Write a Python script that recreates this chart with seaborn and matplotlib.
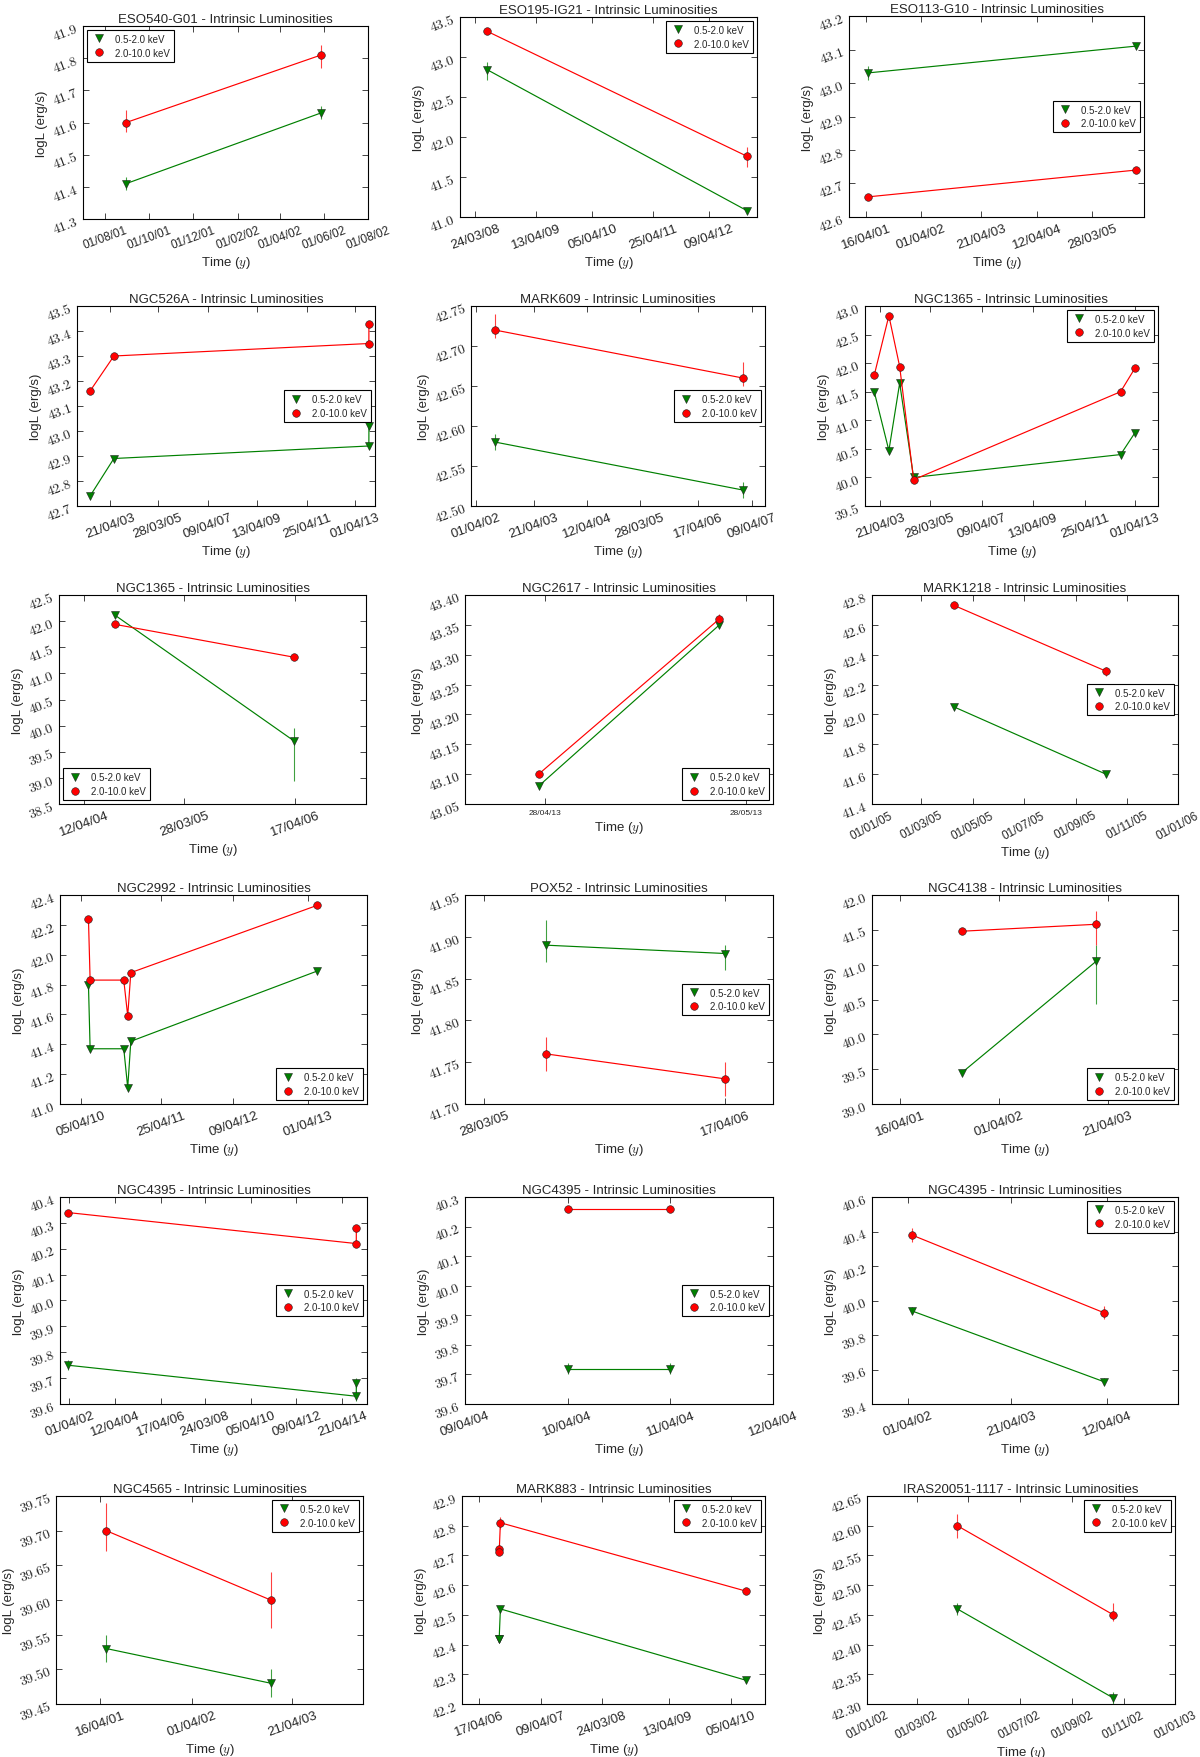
import matplotlib
matplotlib.use("Agg")
import matplotlib.pyplot as plt
import matplotlib.dates as mdates
from matplotlib.lines import Line2D
from matplotlib.ticker import MultipleLocator, FuncFormatter
import pandas as pd
import seaborn as sns

# ---- data ----
SOFT_LABEL = "0.5-2.0 keV"
HARD_LABEL = "2.0-10.0 keV"

eso540_dates = ["2001-08-30", "2002-05-28"]
eso540_soft = [41.41, 41.63]
eso540_soft_err = [[0.02, 0.02], [0.02, 0.02]]
eso540_hard = [41.60, 41.81]
eso540_hard_err = [[0.03, 0.04], [0.04, 0.03]]
eso540_xticks = ["01/08/01", "01/10/01", "01/12/01", "01/02/02", "01/04/02", "01/06/02", "01/08/02"]

eso195_dates = ["2008-06-10", "2012-12-06"]
eso195_soft = [42.84, 41.08]
eso195_soft_err = [[0.13, 0.01], [0.10, 0.01]]
eso195_hard = [43.32, 41.76]
eso195_hard_err = [[0.01, 0.14], [0.01, 0.12]]
eso195_xticks = ["24/03/08", "13/04/09", "05/04/10", "25/04/11", "09/04/12"]

eso113_dates = ["2001-04-26", "2005-12-31"]
eso113_soft = [43.03, 43.11]
eso113_soft_err = [[0.02, 0.005], [0.02, 0.005]]
eso113_hard = [42.66, 42.74]
eso113_hard_err = [[0.005, 0.005], [0.005, 0.005]]
eso113_xticks = ["16/04/01", "01/04/02", "21/04/03", "12/04/04", "28/03/05"]

ngc526a_dates = ["2002-06-29", "2003-06-17", "2013-10-23", "2013-10-24"]
ngc526a_soft = [42.74, 42.89, 42.94, 43.02]
ngc526a_soft_err = [[0.01, 0.01, 0.01, 0.01], [0.01, 0.01, 0.01, 0.01]]
ngc526a_hard = [43.16, 43.30, 43.35, 43.43]
ngc526a_hard_err = [[0.01, 0.01, 0.01, 0.01], [0.01, 0.01, 0.01, 0.01]]
ngc526a_xticks = ["21/04/03", "28/03/05", "09/04/07", "13/04/09", "25/04/11", "01/04/13"]

mark609_dates = ["2002-08-06", "2007-02-09"]
mark609_soft = [42.58, 42.52]
mark609_soft_err = [[0.01, 0.01], [0.01, 0.01]]
mark609_hard = [42.72, 42.66]
mark609_hard_err = [[0.01, 0.01], [0.02, 0.02]]
mark609_xticks = ["01/04/02", "21/04/03", "12/04/04", "28/03/05", "17/04/06", "09/04/07"]

ngc1365a_dates = ["2003-01-23", "2003-08-20", "2004-01-21", "2004-08-07", "2012-09-09", "2013-04-01"]
ngc1365a_soft = [41.50, 40.47, 41.65, 40.00, 40.40, 40.78]
ngc1365a_soft_err = [[0.02] * 6, [0.02] * 6]
ngc1365a_hard = [41.79, 42.83, 41.94, 39.96, 41.50, 41.91]
ngc1365a_hard_err = [[0.02] * 6, [0.02] * 6]
ngc1365a_xticks = ["21/04/03", "28/03/05", "09/04/07", "13/04/09", "25/04/11", "01/04/13"]

ngc1365b_dates = ["2004-07-28", "2006-04-12"]
ngc1365b_soft = [42.12, 39.71]
ngc1365b_soft_err = [[0.02, 0.77], [0.02, 0.25]]
ngc1365b_hard = [41.94, 41.31]
ngc1365b_hard_err = [[0.03, 0.03], [0.03, 0.03]]
ngc1365b_xticks = ["12/04/04", "28/03/05", "17/04/06"]

ngc2617_dates = ["2013-04-27", "2013-05-24"]
ngc2617_soft = [43.08, 43.35]
ngc2617_soft_err = [[0.003, 0.005], [0.003, 0.005]]
ngc2617_hard = [43.10, 43.36]
ngc2617_hard_err = [[0.003, 0.008], [0.003, 0.008]]
ngc2617_xticks = ["28/04/13", "28/05/13"]

mark1218_dates = ["2005-04-09", "2005-10-07"]
mark1218_soft = [42.05, 41.60]
mark1218_soft_err = [[0.01, 0.02], [0.01, 0.02]]
mark1218_hard = [42.73, 42.29]
mark1218_hard_err = [[0.01, 0.03], [0.01, 0.03]]
mark1218_xticks = ["01/01/05", "01/03/05", "01/05/05", "01/07/05", "01/09/05", "01/11/05", "01/01/06"]

ngc2992_dates = ["2010-05-12", "2010-05-20", "2010-10-29", "2010-11-17", "2010-12-02", "2013-05-16"]
ngc2992_soft = [41.80, 41.37, 41.37, 41.11, 41.42, 41.89]
ngc2992_soft_err = [[0.01] * 6, [0.01] * 6]
ngc2992_hard = [42.24, 41.83, 41.83, 41.59, 41.88, 42.33]
ngc2992_hard_err = [[0.01] * 6, [0.01] * 6]
ngc2992_xticks = ["05/04/10", "25/04/11", "09/04/12", "01/04/13"]

pox52_dates = ["2005-07-04", "2006-04-17"]
pox52_soft = [41.89, 41.88]
pox52_soft_err = [[0.02, 0.02], [0.03, 0.01]]
pox52_hard = [41.76, 41.73]
pox52_hard_err = [[0.02, 0.02], [0.02, 0.02]]
pox52_xticks = ["28/03/05", "17/04/06"]

ngc4138_dates = ["2001-11-20", "2003-03-12"]
ngc4138_soft = [39.45, 41.05]
ngc4138_soft_err = [[0.01, 0.62], [0.01, 0.23]]
ngc4138_hard = [41.48, 41.58]
ngc4138_hard_err = [[0.01, 0.30], [0.01, 0.19]]
ngc4138_xticks = ["16/04/01", "01/04/02", "21/04/03"]

ngc4395a_dates = ["2002-03-08", "2014-12-02", "2014-12-03"]
ngc4395a_soft = [39.75, 39.63, 39.68]
ngc4395a_soft_err = [[0.02] * 3, [0.02] * 3]
ngc4395a_hard = [40.34, 40.22, 40.28]
ngc4395a_hard_err = [[0.01] * 3, [0.01] * 3]
ngc4395a_xticks = ["01/04/02", "12/04/04", "17/04/06", "24/03/08", "05/04/10", "09/04/12", "21/04/14"]

ngc4395b_dates = ["2004-04-10", "2004-04-11"]
ngc4395b_soft = [39.72, 39.72]
ngc4395b_soft_err = [[0.02, 0.02], [0.02, 0.02]]
ngc4395b_hard = [40.26, 40.26]
ngc4395b_hard_err = [[0.01, 0.01], [0.01, 0.01]]
ngc4395b_xticks = ["09/04/04", "10/04/04", "11/04/04", "12/04/04"]

ngc4395c_dates = ["2002-04-15", "2004-03-29"]
ngc4395c_soft = [39.94, 39.53]
ngc4395c_soft_err = [[0.02, 0.02], [0.02, 0.02]]
ngc4395c_hard = [40.38, 39.93]
ngc4395c_hard_err = [[0.04, 0.04], [0.04, 0.04]]
ngc4395c_xticks = ["01/04/02", "21/04/03", "12/04/04"]

ngc4565_dates = ["2001-05-10", "2003-01-28"]
ngc4565_soft = [39.53, 39.48]
ngc4565_soft_err = [[0.02, 0.02], [0.02, 0.02]]
ngc4565_hard = [39.70, 39.60]
ngc4565_hard_err = [[0.03, 0.04], [0.04, 0.04]]
ngc4565_xticks = ["16/04/01", "01/04/02", "21/04/03"]

mark883_dates = ["2006-08-10", "2006-08-12", "2006-08-19", "2010-07-02"]
mark883_soft = [42.42, 42.42, 42.52, 42.28]
mark883_soft_err = [[0.01] * 4, [0.01] * 4]
mark883_hard = [42.72, 42.71, 42.81, 42.58]
mark883_hard_err = [[0.01, 0.01, 0.02, 0.01], [0.01, 0.01, 0.02, 0.01]]
mark883_xticks = ["17/04/06", "09/04/07", "24/03/08", "13/04/09", "05/04/10"]

iras_dates = ["2002-04-18", "2002-10-20"]
iras_soft = [42.46, 42.31]
iras_soft_err = [[0.01, 0.01], [0.01, 0.01]]
iras_hard = [42.60, 42.45]
iras_hard_err = [[0.02, 0.01], [0.02, 0.02]]
iras_xticks = ["01/01/02", "01/03/02", "01/05/02", "01/07/02", "01/09/02", "01/11/02", "01/01/03"]

PANELS = [
    dict(name="ESO540-G01", dates=eso540_dates, soft=eso540_soft, soft_err=eso540_soft_err,
         hard=eso540_hard, hard_err=eso540_hard_err, xticks=eso540_xticks,
         xlim=("2001-07-01", "2002-08-01"), ylim=(41.3, 41.9), step=0.1, loc="upper left",
         xfont=8.5),
    dict(name="ESO195-IG21", dates=eso195_dates, soft=eso195_soft, soft_err=eso195_soft_err,
         hard=eso195_hard, hard_err=eso195_hard_err, xticks=eso195_xticks,
         xlim=("2007-12-20", "2013-02-08"), ylim=(41.0, 43.5), step=0.5, loc="upper right"),
    dict(name="ESO113-G10", dates=eso113_dates, soft=eso113_soft, soft_err=eso113_soft_err,
         hard=eso113_hard, hard_err=eso113_hard_err, xticks=eso113_xticks,
         xlim=("2000-12-28", "2006-02-22"), ylim=(42.6, 43.2), step=0.1, loc="center right"),
    dict(name="NGC526A", dates=ngc526a_dates, soft=ngc526a_soft, soft_err=ngc526a_soft_err,
         hard=ngc526a_hard, hard_err=ngc526a_hard_err, xticks=ngc526a_xticks,
         xlim=("2001-12-17", "2014-01-22"), ylim=(42.7, 43.5), step=0.1, loc="center right"),
    dict(name="MARK609", dates=mark609_dates, soft=mark609_soft, soft_err=mark609_soft_err,
         hard=mark609_hard, hard_err=mark609_hard_err, xticks=mark609_xticks,
         xlim=("2002-03-01", "2007-07-07"), ylim=(42.50, 42.75), step=0.05, loc="center right"),
    dict(name="NGC1365", dates=ngc1365a_dates, soft=ngc1365a_soft, soft_err=ngc1365a_soft_err,
         hard=ngc1365a_hard, hard_err=ngc1365a_hard_err, xticks=ngc1365a_xticks,
         xlim=("2002-09-13", "2014-02-25"), ylim=(39.5, 43.0), step=0.5, loc="upper right"),
    dict(name="NGC1365", dates=ngc1365b_dates, soft=ngc1365b_soft, soft_err=ngc1365b_soft_err,
         hard=ngc1365b_hard, hard_err=ngc1365b_hard_err, xticks=ngc1365b_xticks,
         xlim=("2004-01-17", "2006-12-19"), ylim=(38.5, 42.5), step=0.5, loc="lower left"),
    dict(name="NGC2617", dates=ngc2617_dates, soft=ngc2617_soft, soft_err=ngc2617_soft_err,
         hard=ngc2617_hard, hard_err=ngc2617_hard_err, xticks=ngc2617_xticks,
         xlim=("2013-04-16", "2013-06-01"), ylim=(43.05, 43.40), step=0.05, loc="lower right",
         small_x=True),
    dict(name="MARK1218", dates=mark1218_dates, soft=mark1218_soft, soft_err=mark1218_soft_err,
         hard=mark1218_hard, hard_err=mark1218_hard_err, xticks=mark1218_xticks,
         xlim=("2005-01-01", "2006-01-01"), ylim=(41.4, 42.8), step=0.2, loc="center right",
         xfont=8.5, xrot=28),
    dict(name="NGC2992", dates=ngc2992_dates, soft=ngc2992_soft, soft_err=ngc2992_soft_err,
         hard=ngc2992_hard, hard_err=ngc2992_hard_err, xticks=ngc2992_xticks,
         xlim=("2009-12-26", "2014-01-12"), ylim=(41.0, 42.4), step=0.2, loc="lower right"),
    dict(name="POX52", dates=pox52_dates, soft=pox52_soft, soft_err=pox52_soft_err,
         hard=pox52_hard, hard_err=pox52_hard_err, xticks=pox52_xticks,
         xlim=("2005-02-25", "2006-07-02"), ylim=(41.70, 41.95), step=0.05, loc="center right"),
    dict(name="NGC4138", dates=ngc4138_dates, soft=ngc4138_soft, soft_err=ngc4138_soft_err,
         hard=ngc4138_hard, hard_err=ngc4138_hard_err, xticks=ngc4138_xticks,
         xlim=("2001-01-05", "2003-12-27"), ylim=(39.0, 42.0), step=0.5, loc="lower right"),
    dict(name="NGC4395", dates=ngc4395a_dates, soft=ngc4395a_soft, soft_err=ngc4395a_soft_err,
         hard=ngc4395a_hard, hard_err=ngc4395a_hard_err, xticks=ngc4395a_xticks,
         xlim=("2001-11-03", "2015-05-24"), ylim=(39.6, 40.4), step=0.1, loc="center right"),
    dict(name="NGC4395", dates=ngc4395b_dates, soft=ngc4395b_soft, soft_err=ngc4395b_soft_err,
         hard=ngc4395b_hard, hard_err=ngc4395b_hard_err, xticks=ngc4395b_xticks,
         xlim=("2004-04-09", "2004-04-12"), ylim=(39.6, 40.3), step=0.1, loc="center right"),
    dict(name="NGC4395", dates=ngc4395c_dates, soft=ngc4395c_soft, soft_err=ngc4395c_soft_err,
         hard=ngc4395c_hard, hard_err=ngc4395c_hard_err, xticks=ngc4395c_xticks,
         xlim=("2001-11-18", "2004-12-31"), ylim=(39.4, 40.6), step=0.2, loc="upper right"),
    dict(name="NGC4565", dates=ngc4565_dates, soft=ngc4565_soft, soft_err=ngc4565_soft_err,
         hard=ngc4565_hard, hard_err=ngc4565_hard_err, xticks=ngc4565_xticks,
         xlim=("2000-10-30", "2004-01-16"), ylim=(39.45, 39.75), step=0.05, loc="upper right"),
    dict(name="MARK883", dates=mark883_dates, soft=mark883_soft, soft_err=mark883_soft_err,
         hard=mark883_hard, hard_err=mark883_hard_err, xticks=mark883_xticks,
         xlim=("2006-01-10", "2010-10-20"), ylim=(42.2, 42.9), step=0.1, loc="upper right"),
    dict(name="IRAS20051-1117", dates=iras_dates, soft=iras_soft, soft_err=iras_soft_err,
         hard=iras_hard, hard_err=iras_hard_err, xticks=iras_xticks,
         xlim=("2002-01-01", "2003-01-01"), ylim=(42.30, 42.65), step=0.05, loc="upper right",
         xfont=8.5, xrot=28),
]

# axes boxes in pixels of the 1200x1758 picture: (left, right, top, bottom)
AXES_PX = [
    (83, 368, 27, 220), (460, 757, 18, 218), (849, 1144, 17, 218),
    (77, 375, 307, 507), (471, 765, 307, 507), (865, 1158, 307, 507),
    (59, 366, 596, 805), (465, 773, 596, 805), (872, 1178, 596, 805),
    (60, 367, 896, 1105), (465, 773, 896, 1105), (872, 1178, 896, 1105),
    (60, 367, 1198, 1405), (465, 773, 1198, 1405), (872, 1178, 1198, 1405),
    (56, 363, 1497, 1705), (462, 765, 1497, 1705), (867, 1175, 1497, 1705),
]

W, H = 1200, 1758

sns.set_style("ticks", {"xtick.direction": "in", "ytick.direction": "in"})
plt.rcParams["font.family"] = ["Liberation Sans", "DejaVu Sans"]
plt.rcParams["mathtext.fontset"] = "cm"
plt.rcParams["xtick.top"] = True
plt.rcParams["ytick.right"] = True
plt.rcParams["axes.edgecolor"] = "black"
plt.rcParams["axes.linewidth"] = 0.8

MARKER_SIZE = {"v": 6.0, "o": 5.5}


def draw_series(ax, dates, values, err, color, marker):
    ax.errorbar(dates, values, yerr=err, fmt="none", ecolor=color,
                elinewidth=0.8, capsize=0, alpha=0.75, zorder=2)
    frame = pd.DataFrame({"date": dates, "logL": values})
    sns.lineplot(data=frame, x="date", y="logL", ax=ax, estimator=None, sort=False,
                 color=color, linewidth=0.85, marker=marker, markersize=MARKER_SIZE[marker],
                 markerfacecolor=color, markeredgecolor="#222222",
                 markeredgewidth=0.4, legend=False, zorder=3)


fig = plt.figure(figsize=(W / 100, H / 100), dpi=100)

for p, (x0, x1, y0, y1) in zip(PANELS, AXES_PX):
    ax = fig.add_axes([x0 / W, 1 - y1 / H, (x1 - x0) / W, (y1 - y0) / H])
    dates = pd.to_datetime(p["dates"])

    draw_series(ax, dates, p["soft"], p["soft_err"], "green", "v")
    draw_series(ax, dates, p["hard"], p["hard_err"], "red", "o")

    ax.set_xlim(pd.Timestamp(p["xlim"][0]), pd.Timestamp(p["xlim"][1]))
    ax.set_xticks(pd.to_datetime(p["xticks"], format="%d/%m/%y"))
    ax.xaxis.set_major_formatter(mdates.DateFormatter("%d/%m/%y"))
    ax.set_ylim(*p["ylim"])
    ax.yaxis.set_major_locator(MultipleLocator(p["step"]))
    decimals = 1 if p["step"] >= 0.1 else 2
    ax.yaxis.set_major_formatter(FuncFormatter(lambda v, pos, d=decimals: "$%.*f$" % (d, v)))

    if p.get("small_x"):
        ax.tick_params(axis="x", labelsize=6, labelrotation=0, length=4, width=0.6)
    else:
        ax.tick_params(axis="x", labelsize=p.get("xfont", 9.5), labelrotation=p.get("xrot", 20),
                       length=4, width=0.6)
    ax.tick_params(axis="y", labelsize=10, labelrotation=20, length=4, width=0.6, pad=2)

    ax.set_title(p["name"] + " - Intrinsic Luminosities", fontsize=9.5, pad=3)
    ax.set_xlabel("Time ($y$)", fontsize=9.5, labelpad=2)
    ax.set_ylabel("logL (erg/s)", fontsize=9.5, labelpad=2)

    handles = [
        Line2D([], [], ls="none", marker="v", markersize=5.5, color="green",
               markeredgecolor="#222222", markeredgewidth=0.4),
        Line2D([], [], ls="none", marker="o", markersize=5.5, color="red",
               markeredgecolor="#222222", markeredgewidth=0.4),
    ]
    leg = ax.legend(handles, [SOFT_LABEL, HARD_LABEL], loc=p["loc"], fontsize=7,
                    frameon=True, fancybox=False, framealpha=1, edgecolor="black",
                    borderpad=0.4, labelspacing=0.4, handlelength=1.6,
                    handletextpad=0.9, borderaxespad=0.4)
    leg.get_frame().set_linewidth(0.8)

fig.savefig("out.png", dpi=100)
